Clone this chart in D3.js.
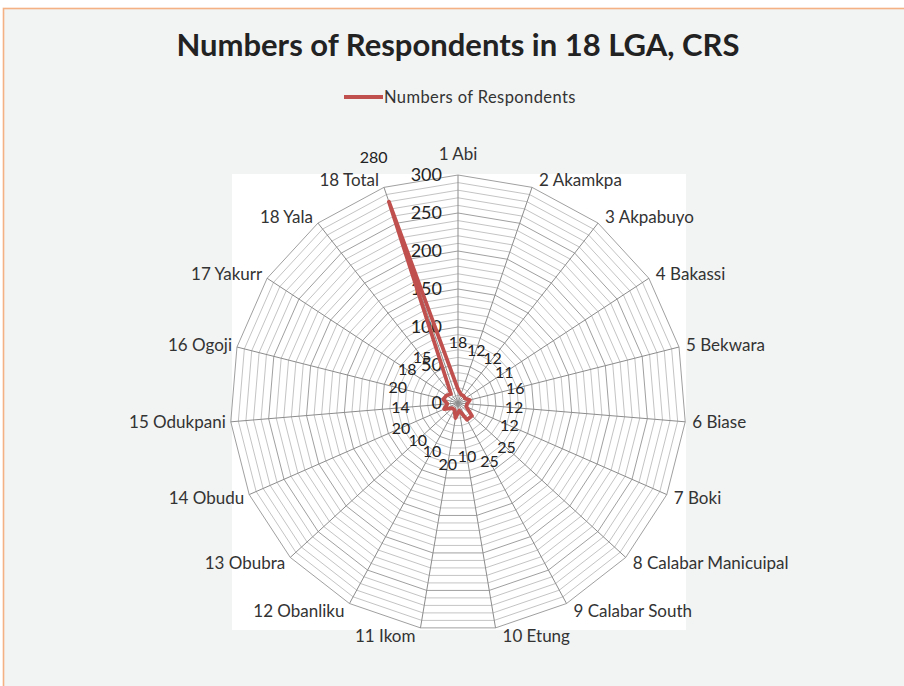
<!DOCTYPE html>
<html>
<head>
<meta charset="utf-8">
<script src="https://cdnjs.cloudflare.com/ajax/libs/d3/7.8.5/d3.min.js"></script>
<style>
  html, body { margin: 0; padding: 0; background: #ffffff; }
  svg { display: block; }
</style>
</head>
<body>
<svg id="chart" width="904" height="686"></svg>
<script>
// Local government areas (plus the overall total) and respondent counts
const categories = [
  "1 Abi", "2 Akamkpa", "3 Akpabuyo", "4 Bakassi", "5 Bekwara", "6 Biase",
  "7 Boki", "8 Calabar Manicuipal", "9 Calabar South", "10 Etung", "11 Ikom",
  "12 Obanliku", "13 Obubra", "14 Obudu", "15 Odukpani", "16 Ogoji",
  "17 Yakurr", "18 Yala", "18 Total"
];
const respondents = [18, 12, 12, 11, 16, 12, 12, 25, 25, 10, 20, 10, 10, 20, 14, 20, 18, 15, 280];
const majorTicks = [0, 50, 100, 150, 200, 250, 300];
const minorTicks = d3.range(10, 301, 10);
const seriesName = "Numbers of Respondents";
const chartTitle = "Numbers of Respondents in 18 LGA, CRS";

const FONT = "Lato, 'Open Sans', sans-serif";
const svg = d3.select("#chart");

// Chart frame
svg.append("rect")
  .attr("x", 3.5).attr("y", 8.5).attr("width", 920).attr("height", 700)
  .attr("fill", "#f2f3f3").attr("stroke", "#f4b183").attr("stroke-width", 1.6);

// Plot area
svg.append("rect")
  .attr("x", 232).attr("y", 174).attr("width", 454).attr("height", 456)
  .attr("fill", "#ffffff");

// Title
svg.append("text")
  .attr("x", 458).attr("y", 56)
  .attr("text-anchor", "middle")
  .attr("font-family", FONT).attr("font-weight", "bold")
  .attr("font-size", 31).attr("fill", "#222")
  .text(chartTitle);

// Legend
svg.append("line")
  .attr("x1", 344).attr("x2", 383).attr("y1", 97).attr("y2", 97)
  .attr("stroke", "#c0504d").attr("stroke-width", 4);
svg.append("text")
  .attr("x", 384).attr("y", 97).attr("dy", "0.35em")
  .attr("font-family", FONT).attr("font-size", 16.5).attr("fill", "#333")
  .attr("letter-spacing", 0.4)
  .text(seriesName);

// Radar geometry
const cx = 458, cy = 403, R = 228;
const r = d3.scaleLinear().domain([0, 300]).range([0, R]);
const angle = d3.scalePoint().domain(d3.range(categories.length + 1)).range([0, 2 * Math.PI]);
const ang = i => angle(i);
const pt = (i, v) => [cx + r(v) * Math.sin(ang(i)), cy - r(v) * Math.cos(ang(i))];

const g = svg.append("g");
const ring = v => d3.line()(categories.map((c, i) => pt(i, v))) + "Z";

// Minor gridlines
g.selectAll(".minor").data(minorTicks.filter(v => v % 50 !== 0)).join("path")
  .attr("d", ring).attr("fill", "none")
  .attr("stroke", "#c4c4c4").attr("stroke-width", 1);

// Major gridlines
g.selectAll(".major").data(majorTicks.filter(v => v > 0)).join("path")
  .attr("d", ring).attr("fill", "none")
  .attr("stroke", "#a0a0a0").attr("stroke-width", 1);

// Spokes
g.selectAll(".spoke").data(categories).join("line")
  .attr("x1", cx).attr("y1", cy)
  .attr("x2", (d, i) => pt(i, 300)[0]).attr("y2", (d, i) => pt(i, 300)[1])
  .attr("stroke", "#8c8c8c").attr("stroke-width", 1);

// Value axis labels along the first spoke
g.selectAll(".tick").data(majorTicks).join("text")
  .attr("x", cx - 16).attr("y", v => cy - r(v)).attr("dy", "0.35em")
  .attr("text-anchor", "end")
  .attr("font-family", FONT).attr("font-size", 18).attr("fill", "#222")
  .text(v => v);

// Series line
const seriesPts = respondents.map((v, i) => pt(i, v));
g.append("path")
  .attr("d", d3.line()(seriesPts) + "Z")
  .attr("fill", "none").attr("stroke", "#c0504d")
  .attr("stroke-width", 3.8).attr("stroke-linejoin", "round");

// Data labels, set out radially from each point
g.selectAll(".dlabel").data(respondents).join("text")
  .attr("x", (v, i) => cx + (r(v) + 47) * Math.sin(ang(i)))
  .attr("y", (v, i) => cy - (r(v) + 47) * Math.cos(ang(i)))
  .attr("dy", "0.35em").attr("text-anchor", "middle")
  .attr("font-family", FONT).attr("font-size", 16).attr("fill", "#222")
  .text(v => v);

// Category labels around the outer ring
g.selectAll(".clabel").data(categories).join("text")
  .each(function (d, i) {
    const [vx, vy] = pt(i, 300);
    const dx = Math.sin(ang(i)), dy = -Math.cos(ang(i));
    const t = d3.select(this);
    if (Math.abs(dx) < 0.05) {
      t.attr("text-anchor", "middle").attr("x", vx).attr("y", vy + dy * 21);
    } else {
      t.attr("text-anchor", dx > 0 ? "start" : "end")
        .attr("x", vx + (dx > 0 ? 7 : -5)).attr("y", vy + dy * 8);
    }
  })
  .attr("dy", "0.35em")
  .attr("font-family", FONT).attr("font-size", 17).attr("fill", "#333")
  .text(d => d);
</script>
</body>
</html>
